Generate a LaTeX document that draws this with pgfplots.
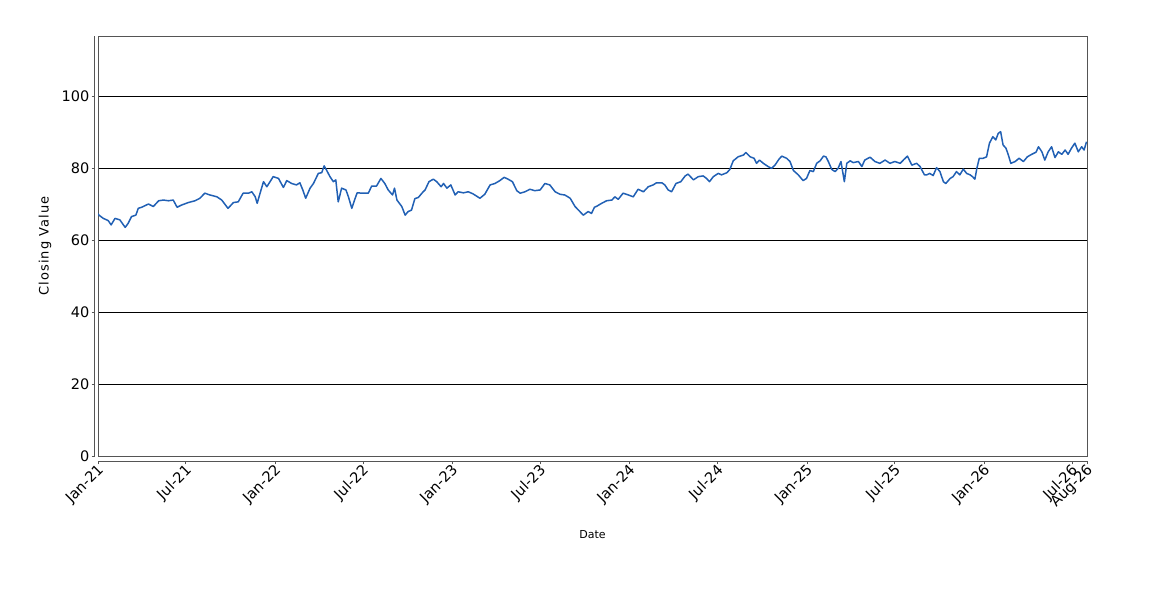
\documentclass[border=0pt]{standalone}
\usepackage{pgfplots}
\pgfplotsset{compat=1.18}
\usepackage{fontspec}
\setmainfont{DejaVu Sans}
\newfontfamily\spacedfont[LetterSpace=8]{DejaVu Sans}
\definecolor{serieblue}{RGB}{33,96,180}
\definecolor{framegray}{RGB}{85,85,85}
\begin{document}
\begin{tikzpicture}
\useasboundingbox (0,0) rectangle (1150bp,600bp);
% y axis (offset, JFreeChart style)
\begin{axis}[
  at={(94.5bp,144bp)}, anchor=south west,
  scale only axis, width=992.5bp, height=420bp,
  xmin=0, xmax=1, ymin=0, ymax=116.67,
  axis x line=none, axis y line=left,
  axis line style={-, draw=framegray, line width=0.8bp},
  ytick={0,20,40,60,80,100},
  yticklabels={0,20,40,60,80,100},
  tick align=outside, major tick length=3bp,
  tick style={draw=framegray, line width=0.8bp},
  yticklabel style={font=\fontsize{14.5bp}{16bp}\selectfont, inner sep=2bp},
  /pgf/number format/assume math mode=true,
]
\end{axis}
% x axis (offset)
\begin{axis}[
  at={(98bp,138.5bp)}, anchor=south west,
  scale only axis, width=989bp, height=425.5bp,
  xmin=0, xmax=2038, ymin=0, ymax=1,
  axis y line=none, axis x line=bottom,
  axis line style={-, draw=framegray, line width=0.8bp},
  xtick={0,181,365,546,730,911,1095,1277,1461,1642,1826,2007,2038},
  xticklabels={Jan-21,Jul-21,Jan-22,Jul-22,Jan-23,Jul-23,Jan-24,Jul-24,Jan-25,Jul-25,Jan-26,Jul-26,Aug-26},
  tick align=outside, major tick length=3bp,
  tick style={draw=framegray, line width=0.8bp},
  xticklabel style={font=\fontsize{14.5bp}{16bp}\selectfont, rotate=45, anchor=east, inner sep=1bp, yshift=-5bp, xshift=1bp},
  /pgf/number format/assume math mode=true,
]
\end{axis}
% main plot area
\begin{axis}[
  at={(98bp,144bp)}, anchor=south west,
  scale only axis, width=989bp, height=420bp,
  xmin=0, xmax=2038, ymin=0, ymax=116.67,
  axis line style={draw=framegray, line width=0.8bp},
  xtick=\empty, ytick={20,40,60,80,100}, yticklabels={},
  major tick length=0pt,
  ymajorgrids, grid style={black, line width=0.9bp},
  xlabel={Date}, ylabel={Closing Value},
  xlabel style={at={(axis description cs:0.5,-0.188)}, anchor=center, font=\fontsize{11bp}{13bp}\selectfont},
  ylabel style={at={(axis description cs:-0.0536,0.5)}, anchor=center, font=\spacedfont\fontsize{13bp}{15bp}\selectfont},
]
\addplot[serieblue, line width=1.5bp, mark=none, line join=round] coordinates {
(0,67.3) (2,66.9) (11,66.0) (21,65.4) (27,64.2) (35,66.0) (45,65.6) (56,63.5) (62,64.6) (69,66.5)
(78,66.9) (83,68.8) (90,69.1) (104,70.0) (114,69.3) (125,70.9) (135,71.1) (145,70.9) (155,71.1) (163,69.1)
(172,69.7) (186,70.4) (200,70.9) (210,71.6) (220,73.0) (231,72.5) (245,72.0) (255,71.1) (265,69.3) (268,68.8)
(279,70.4) (289,70.6) (299,73.0) (310,73.0) (317,73.4) (324,72.0) (328,70.2) (334,73.0) (341,76.2) (348,74.8)
(361,77.6) (372,77.1) (382,74.6) (389,76.5) (399,75.7) (409,75.3) (416,75.9) (422,73.9) (428,71.6) (437,74.4)
(444,75.7) (454,78.5) (461,78.7) (466,80.6) (471,79.4) (478,77.6) (485,76.2) (490,76.7) (495,70.6) (502,74.4)
(511,73.9) (516,72.0) (523,68.8) (530,71.6) (534,73.1) (547,73.0) (557,73.0) (564,75.0) (574,75.0) (583,77.1)
(591,75.7) (598,73.9) (607,72.5) (611,74.4) (616,71.1) (626,69.3) (633,66.9) (639,67.9) (646,68.3) (653,71.5)
(660,71.8) (670,73.4) (674,73.9) (682,76.2) (691,76.9) (698,76.2) (707,74.8) (712,75.7) (719,74.4) (727,75.3)
(736,72.5) (742,73.4) (753,73.1) (763,73.4) (773,72.8) (787,71.6) (797,72.7) (808,75.3) (818,75.7) (828,76.5)
(837,77.4) (845,76.9) (854,76.2) (863,73.7) (870,73.0) (880,73.4) (890,74.1) (900,73.7) (911,73.9) (921,75.7)
(931,75.3) (942,73.4) (952,72.7) (962,72.5) (973,71.6) (983,69.3) (993,67.9) (1000,66.9) (1010,67.9) (1017,67.4)
(1023,69.1) (1028,69.4) (1038,70.2) (1048,70.9) (1059,71.1) (1065,72.0) (1072,71.3) (1082,73.0) (1093,72.5) (1103,72.0)
(1113,74.1) (1124,73.4) (1134,74.8) (1144,75.3) (1151,75.9) (1162,75.9) (1168,75.3) (1175,73.9) (1182,73.4) (1191,75.7)
(1201,76.2) (1210,77.8) (1216,78.3) (1227,76.7) (1237,77.6) (1247,77.8) (1254,77.1) (1260,76.2) (1268,77.6) (1278,78.5)
(1285,78.1) (1296,78.7) (1302,79.6) (1309,82.0) (1319,83.1) (1330,83.6) (1335,84.3) (1344,83.1) (1352,82.7) (1357,81.3)
(1363,82.2) (1371,81.3) (1381,80.4) (1388,79.9) (1395,80.8) (1403,82.4) (1409,83.3) (1419,82.7) (1426,81.8) (1433,79.3)
(1443,78.1) (1453,76.5) (1460,77.1) (1467,79.3) (1474,79.0) (1481,81.3) (1488,82.0) (1495,83.3) (1500,83.1) (1505,81.8)
(1512,79.6) (1519,79.0) (1525,79.9) (1531,81.8) (1538,76.2) (1543,81.3) (1550,82.0) (1556,81.5) (1567,81.8) (1574,80.4)
(1580,82.2) (1591,83.0) (1601,81.8) (1611,81.3) (1622,82.2) (1632,81.3) (1642,81.8) (1653,81.3) (1661,82.4) (1668,83.3)
(1677,80.8) (1687,81.3) (1694,80.4) (1703,78.1) (1708,78.1) (1714,78.5) (1721,77.9) (1728,80.1) (1735,79.0) (1742,76.2)
(1747,75.7) (1756,77.1) (1762,77.6) (1769,79.0) (1776,78.1) (1783,79.7) (1790,78.5) (1797,78.1) (1802,77.6) (1807,76.9)
(1811,79.9) (1816,82.7) (1824,82.7) (1831,83.1) (1837,86.9) (1844,88.7) (1850,87.8) (1855,89.6) (1860,90.1) (1865,86.4)
(1871,85.5) (1876,83.6) (1881,81.3) (1890,81.8) (1898,82.7) (1907,81.8) (1915,83.1) (1924,83.8) (1933,84.4) (1938,85.9)
(1945,84.5) (1951,82.2) (1958,84.5) (1965,85.9) (1972,82.9) (1979,84.5) (1986,83.8) (1993,85.0) (1999,83.8) (2006,85.5)
(2013,86.9) (2020,84.5) (2027,85.9) (2032,85.0) (2037,87.3)
};
\end{axis}
\end{tikzpicture}
\end{document}
